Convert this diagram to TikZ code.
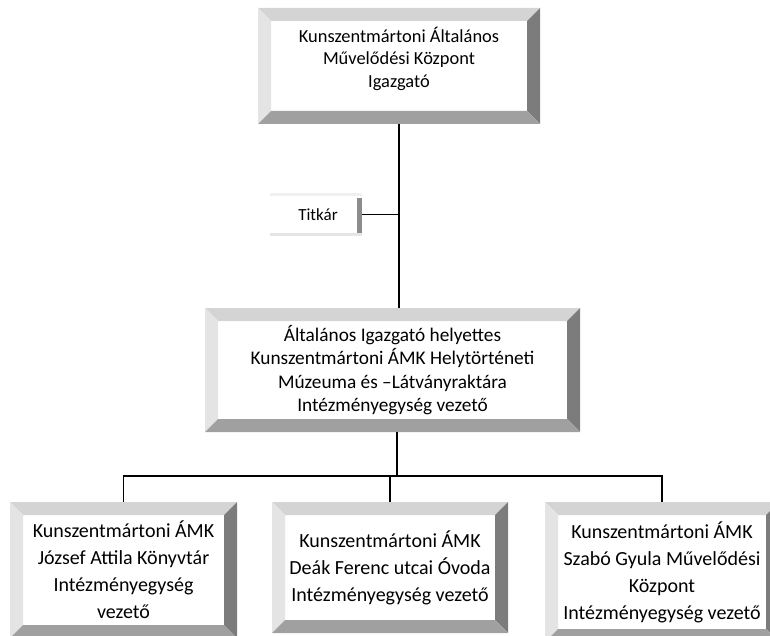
\documentclass[tikz,border=0pt]{standalone}
\usepackage{fontspec}
\setmainfont{Carlito}
\usepackage{xcolor}
\usetikzlibrary{positioning,calc}
\newcommand{\bevw}{13pt}
\definecolor{bevtop}{HTML}{D4D4D4}
\definecolor{bevleft}{HTML}{E4E4E4}
\definecolor{bevright}{HTML}{7C7C7C}
\definecolor{bevbottom}{HTML}{A0A0A0}
\tikzset{%
bevelbox/.style={fill=white,inner sep=0pt,align=center,
  path picture={
    \fill[bevtop] (path picture bounding box.north west) -- (path picture bounding box.north east)
      -- ([shift={(-\bevw,-\bevw)}]path picture bounding box.north east)
      -- ([shift={(\bevw,-\bevw)}]path picture bounding box.north west) -- cycle;
    \fill[bevleft] (path picture bounding box.north west) -- ([shift={(\bevw,-\bevw)}]path picture bounding box.north west)
      -- ([shift={(\bevw,\bevw)}]path picture bounding box.south west) -- (path picture bounding box.south west) -- cycle;
    \fill[bevright] (path picture bounding box.north east) -- ([shift={(-\bevw,-\bevw)}]path picture bounding box.north east)
      -- ([shift={(-\bevw,\bevw)}]path picture bounding box.south east) -- (path picture bounding box.south east) -- cycle;
    \fill[bevbottom] (path picture bounding box.south west) -- (path picture bounding box.south east)
      -- ([shift={(-\bevw,\bevw)}]path picture bounding box.south east)
      -- ([shift={(\bevw,\bevw)}]path picture bounding box.south west) -- cycle;
  }},
faintbox/.style={fill=white,inner sep=0pt,align=center,font=\fontsize{17}{21}\selectfont,
  path picture={
    \fill[black!6] (path picture bounding box.north west) rectangle ([yshift=-3pt]path picture bounding box.north east);
    \fill[black!10] (path picture bounding box.south west) rectangle ([yshift=3pt]path picture bounding box.south east);
    \fill[black!45] ([xshift=-5pt,yshift=-5pt]path picture bounding box.north east) rectangle ([yshift=3pt]path picture bounding box.south east);
  }},
toplevel/.style={bevelbox,font=\fontsize{18.4}{22.5}\selectfont,text depth=18pt},
midlevel/.style={bevelbox,font=\fontsize{19.3}{23.5}\selectfont},
unitlevel/.style={bevelbox,font=\fontsize{20}{27}\selectfont},
orgline/.style={line width=1.6pt},
sideline/.style={line width=1.2pt}
}

\begin{document}
\begin{tikzpicture}[x=1pt,y=1pt]
    \useasboundingbox (0,0) rectangle (770,-636);
    \clip (0,0) rectangle (770,-636);

    % director and secretary
    \node[toplevel,minimum width=282pt,minimum height=116pt] (director) at (399,-66)
        {Kunszentmártoni Általános\\Művelődési Központ\\Igazgató};
    \node[faintbox,minimum width=92pt,minimum height=43pt] (secretary) at (316,-214.5) {\hspace*{4pt}Titkár};

    % deputy
    \node[midlevel,minimum width=375pt,minimum height=124pt] (deputy) at (392.5,-370)
        {Általános Igazgató helyettes\\Kunszentmártoni ÁMK Helytörténeti\\Múzeuma és –Látványraktára\\Intézményegység vezető};

    % units
    \node[unitlevel,minimum width=227pt,minimum height=136pt] (library) at (123.5,-570)
        {Kunszentmártoni ÁMK\\József Attila Könyvtár\\Intézményegység\\vezető};
    \node[unitlevel,minimum width=236pt,minimum height=131pt] (kinder) at (390,-567.5)
        {Kunszentmártoni ÁMK\\Deák Ferenc utcai Óvoda\\Intézményegység vezető};
    \node[unitlevel,minimum width=234pt,minimum height=140pt] (culture) at (662,-572)
        {Kunszentmártoni ÁMK\\Szabó Gyula Művelődési\\Központ\\Intézményegység vezető};

    \coordinate (bus) at (397,-476);

    \draw[orgline] (director.south) -- (director.south |- deputy.north);
    \draw[sideline] (secretary.east) -- (secretary.east -| director.south);
    \draw[orgline] (bus |- deputy.south) -- (bus);
    \draw[orgline] (library.north) |- (bus) -| (culture.north);
    \draw[orgline] (kinder.north) -- (kinder.north |- bus);

\end{tikzpicture}
\end{document}
